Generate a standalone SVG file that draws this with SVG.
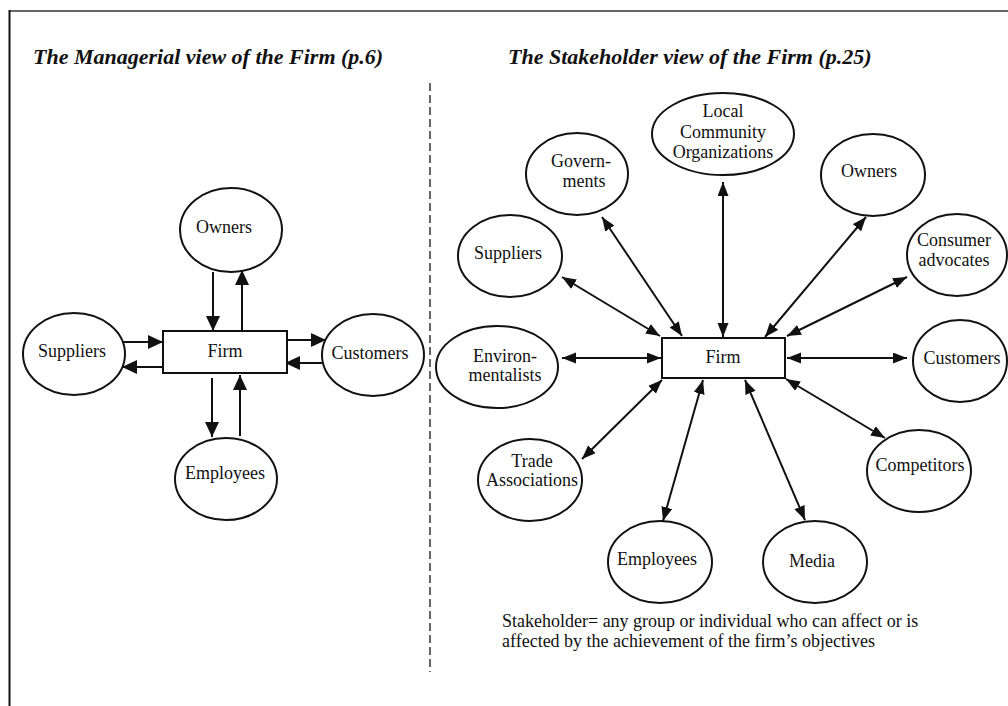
<svg xmlns="http://www.w3.org/2000/svg" width="1008" height="706" viewBox="0 0 1008 706">
<defs>
<style>
.bg{fill:#fff}
.node ellipse,.node rect{fill:#fff;stroke:#111;stroke-width:2}
.lbl{font-family:"Liberation Serif","Times New Roman",serif;font-size:18px;fill:#111;text-anchor:middle}
.title{font-family:"Liberation Serif","Times New Roman",serif;font-size:22px;font-weight:bold;font-style:italic;fill:#111}
.note{font-family:"Liberation Serif","Times New Roman",serif;font-size:18px;fill:#111}
.conn line{stroke:#111;stroke-width:2}
.mg line{marker-end:url(#ahL)}
.sh line{marker-start:url(#ahR);marker-end:url(#ahR)}
</style>
<marker id="ahL" markerUnits="userSpaceOnUse" markerWidth="16" markerHeight="14" refX="15" refY="7" orient="auto-start-reverse"><path d="M0,0 L15,7 L0,14 z" fill="#111"/></marker>
<marker id="ahR" markerUnits="userSpaceOnUse" markerWidth="15" markerHeight="12" refX="14" refY="5.5" orient="auto-start-reverse"><path d="M0,0 L14,5.5 L0,11 z" fill="#111"/></marker>
</defs>
<rect class="bg" x="0" y="0" width="1008" height="706"/>
<g id="frame">
<line x1="9" y1="11" x2="1008" y2="11" stroke="#666" stroke-width="2"/>
<line x1="9.5" y1="10" x2="9.5" y2="706" stroke="#111" stroke-width="2"/>
<line x1="430" y1="83" x2="430" y2="672" stroke="#333" stroke-width="1.5" stroke-dasharray="8,4"/>
</g>
<text class="title" x="33" y="64">The Managerial view of the Firm (p.6)</text>
<text class="title" x="508" y="64">The Stakeholder view of the Firm (p.25)</text>

<g id="connectors" class="conn">
<g class="mg">
<line x1="213" y1="272" x2="213" y2="331"/>
<line x1="242" y1="331" x2="242" y2="270"/>
<line x1="123" y1="342" x2="163" y2="342"/>
<line x1="162" y1="367" x2="122" y2="367"/>
<line x1="287" y1="340" x2="326" y2="340"/>
<line x1="322" y1="363" x2="285" y2="363"/>
<line x1="212" y1="378" x2="212" y2="437"/>
<line x1="240" y1="436" x2="240" y2="375"/>
</g>
<g class="sh">
<line x1="602" y1="217" x2="682" y2="336"/>
<line x1="562" y1="277" x2="660" y2="336"/>
<line x1="723" y1="182" x2="723" y2="337"/>
<line x1="866" y1="217" x2="765" y2="337"/>
<line x1="907" y1="277" x2="787" y2="336"/>
<line x1="562" y1="358" x2="661" y2="358"/>
<line x1="787" y1="358" x2="907" y2="358"/>
<line x1="582" y1="459" x2="662" y2="380"/>
<line x1="703" y1="380" x2="663" y2="521"/>
<line x1="745" y1="380" x2="805" y2="520"/>
<line x1="786" y1="379" x2="885" y2="438"/>
</g>
</g>

<g id="m-owners" class="node"><ellipse cx="231" cy="230" rx="51" ry="42"/><text class="lbl" x="224" y="233">Owners</text></g>
<g id="m-firm" class="node"><rect x="163" y="331" width="124" height="42"/><text class="lbl" x="225" y="357">Firm</text></g>
<g id="m-suppliers" class="node"><ellipse cx="74" cy="354" rx="51" ry="41"/><text class="lbl" x="72" y="357">Suppliers</text></g>
<g id="m-customers" class="node"><ellipse cx="373" cy="355" rx="51" ry="41"/><text class="lbl" x="370" y="359">Customers</text></g>
<g id="m-employees" class="node"><ellipse cx="226" cy="479" rx="51" ry="41"/><text class="lbl" x="225" y="479">Employees</text></g>

<g id="s-firm" class="node"><rect x="662" y="338" width="123" height="40"/><text class="lbl" x="723" y="363">Firm</text></g>
<g id="s-local" class="node"><ellipse cx="723" cy="134" rx="71" ry="41"/><text class="lbl" x="723" y="117">Local</text><text class="lbl" x="723" y="138">Community</text><text class="lbl" x="723" y="158">Organizations</text></g>
<g id="s-governments" class="node"><ellipse cx="577" cy="174" rx="51" ry="41"/><text class="lbl" x="581" y="167">Govern-</text><text class="lbl" x="584" y="187">ments</text></g>
<g id="s-suppliers" class="node"><ellipse cx="510" cy="256" rx="52" ry="41"/><text class="lbl" x="508" y="259">Suppliers</text></g>
<g id="s-owners" class="node"><ellipse cx="873" cy="175" rx="52" ry="41"/><text class="lbl" x="869" y="177">Owners</text></g>
<g id="s-consumer" class="node"><ellipse cx="957" cy="255" rx="50" ry="41"/><text class="lbl" x="954" y="246">Consumer</text><text class="lbl" x="954" y="266">advocates</text></g>
<g id="s-environmentalists" class="node"><ellipse cx="497" cy="367" rx="61" ry="41"/><text class="lbl" x="505" y="362">Environ-</text><text class="lbl" x="505" y="381">mentalists</text></g>
<g id="s-customers" class="node"><ellipse cx="960" cy="361" rx="47" ry="41"/><text class="lbl" x="962" y="364">Customers</text></g>
<g id="s-trade" class="node"><ellipse cx="530" cy="480" rx="52" ry="41"/><text class="lbl" x="532" y="467">Trade</text><text class="lbl" x="532" y="486">Associations</text></g>
<g id="s-competitors" class="node"><ellipse cx="919" cy="471" rx="52" ry="41"/><text class="lbl" x="920" y="471">Competitors</text></g>
<g id="s-employees" class="node"><ellipse cx="660" cy="562" rx="52" ry="41"/><text class="lbl" x="657" y="565">Employees</text></g>
<g id="s-media" class="node"><ellipse cx="815" cy="562" rx="52" ry="41"/><text class="lbl" x="812" y="567">Media</text></g>

<text class="note" x="502" y="627">Stakeholder= any group or individual who can affect or is</text>
<text class="note" x="502" y="647">affected by the achievement of the firm’s objectives</text>
</svg>
